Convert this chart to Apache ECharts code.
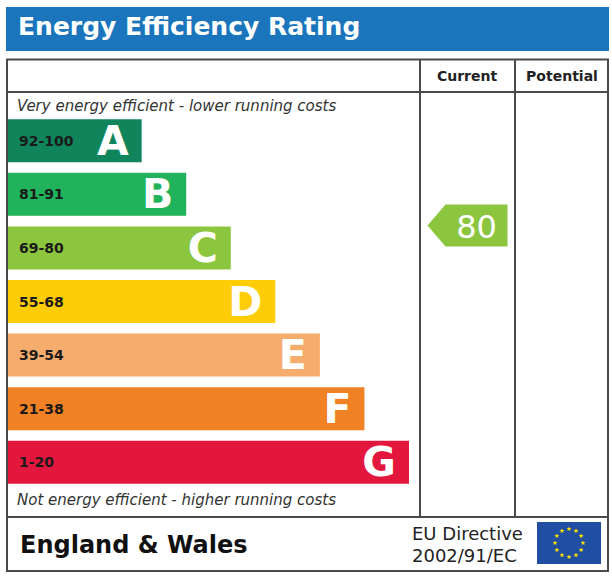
<!DOCTYPE html>
<html>
<head>
<meta charset="utf-8">
<script src="https://cdn.jsdelivr.net/npm/echarts@6/dist/echarts.min.js"></script>
<style>
html,body{margin:0;padding:0;background:#fff;}
#chart{width:612px;height:576px;}
</style>
</head>
<body>
<div id="chart"></div>
<script>
// ---- data ----
var bands = ['A', 'B', 'C', 'D', 'E', 'F', 'G'];
var rangeLabels = ['92-100', '81-91', '69-80', '55-68', '39-54', '21-38', '1-20'];
var bandLow = [92, 81, 69, 55, 39, 21, 1];
var bandHigh = [100, 91, 80, 68, 54, 38, 20];
var barLength = [3, 4, 5, 6, 7, 8, 9];
var bandColors = ['#10845a', '#21b25c', '#8cc63f', '#fecd07', '#f6ac6d', '#f08124', '#e3173d'];
var currentRating = 80;
var titleText = 'Energy Efficiency Rating';
var columnTitles = ['Current', 'Potential'];
var topNote = 'Very energy efficient - lower running costs';
var bottomNote = 'Not energy efficient - higher running costs';
var regionText = 'England & Wales';
var directiveLines = ['EU Directive', '2002/91/EC'];

// band position of the current rating (fractional row index)
function ratingPos(v) {
  for (var i = 0; i < bandLow.length; i++) {
    if (v >= bandLow[i] && v <= bandHigh[i]) {
      return i - 0.5 + (bandHigh[i] - v + 1) / (bandHigh[i] - bandLow[i] + 1);
    }
  }
  return 0;
}
var currentBand = 0;
for (var k = 0; k < bandLow.length; k++) { if (currentRating >= bandLow[k] && currentRating <= bandHigh[k]) currentBand = k; }

var FONT = '"DejaVu Sans", sans-serif';
var lineColor = '#4a4a4a';

// EU flag stars
var stars = [];
var fcx = 569, fcy = 543, fr = 14;
for (var s = 0; s < 12; s++) {
  var a = s * Math.PI / 6;
  var sx = fcx + fr * Math.sin(a), sy = fcy - fr * Math.cos(a);
  var pts = [];
  for (var p = 0; p < 10; p++) {
    var rr = p % 2 === 0 ? 2.6 : 1.1;
    var aa = p * Math.PI / 5;
    pts.push([sx + rr * Math.sin(aa), sy - rr * Math.cos(aa)]);
  }
  stars.push({ type: 'polygon', shape: { points: pts }, style: { fill: '#ffe100' }, silent: true });
}

var graphics = [
  { type: 'rect', shape: { x: 6, y: 7, width: 603, height: 44 }, style: { fill: '#1b75bc' } },
  { type: 'text', left: 18, top: 14, style: { text: titleText, fill: '#ffffff', font: 'bold 25px ' + FONT } },
  { type: 'rect', shape: { x: 7, y: 59.5, width: 601, height: 511.5 }, style: { fill: 'none', stroke: lineColor, lineWidth: 2 } },
  { type: 'line', shape: { x1: 7, y1: 92, x2: 608, y2: 92 }, style: { stroke: lineColor, lineWidth: 2 } },
  { type: 'line', shape: { x1: 7, y1: 517, x2: 608, y2: 517 }, style: { stroke: lineColor, lineWidth: 2 } },
  { type: 'line', shape: { x1: 420, y1: 59.5, x2: 420, y2: 517 }, style: { stroke: lineColor, lineWidth: 2 } },
  { type: 'line', shape: { x1: 515, y1: 59.5, x2: 515, y2: 517 }, style: { stroke: lineColor, lineWidth: 2 } },
  { type: 'text', x: 467, y: 76, style: { text: columnTitles[0], fill: '#222', font: 'bold 14px ' + FONT, textAlign: 'center', textVerticalAlign: 'middle' } },
  { type: 'text', x: 562, y: 76, style: { text: columnTitles[1], fill: '#222', font: 'bold 14px ' + FONT, textAlign: 'center', textVerticalAlign: 'middle' } },
  { type: 'text', x: 17, y: 106, style: { text: topNote, fill: '#333', font: 'italic 15px ' + FONT, textVerticalAlign: 'middle' } },
  { type: 'text', x: 17, y: 500, style: { text: bottomNote, fill: '#333', font: 'italic 15px ' + FONT, textVerticalAlign: 'middle' } },
  { type: 'text', x: 20, y: 545, style: { text: regionText, fill: '#111', font: 'bold 24px ' + FONT, textVerticalAlign: 'middle' } },
  { type: 'text', x: 412, y: 533, style: { text: directiveLines[0], fill: '#222', font: '18px ' + FONT, textVerticalAlign: 'middle' } },
  { type: 'text', x: 412, y: 555, style: { text: directiveLines[1], fill: '#222', font: '18px ' + FONT, textVerticalAlign: 'middle' } },
  { type: 'rect', shape: { x: 537, y: 522, width: 64, height: 42 }, style: { fill: '#1f4ea3' } }
].concat(stars);

var chart = echarts.init(document.getElementById('chart'), null, { renderer: 'svg' });
chart.setOption({
  animation: false,
  backgroundColor: '#ffffff',
  graphic: graphics,
  grid: [
    { left: 8, width: 401, top: 114, height: 375 },
    { left: 420, width: 95, top: 114, height: 375 }
  ],
  xAxis: [
    { gridIndex: 0, type: 'value', min: 0, max: 9, show: false },
    { gridIndex: 1, type: 'value', min: 0, max: 1, show: false }
  ],
  yAxis: [
    { gridIndex: 0, type: 'category', data: bands, inverse: true, show: false },
    { gridIndex: 1, type: 'value', min: -0.5, max: 6.5, inverse: true, show: false }
  ],
  series: [
    {
      type: 'bar', xAxisIndex: 0, yAxisIndex: 0, barWidth: 43,
      data: barLength.map(function (v, i) { return { value: v, itemStyle: { color: bandColors[i] } }; }),
      label: {
        show: true, position: 'insideLeft', distance: 11,
        formatter: function (p) { return rangeLabels[p.dataIndex]; },
        color: '#1a1a1a', fontFamily: 'DejaVu Sans', fontWeight: 'bold', fontSize: 14
      },
      silent: true
    },
    {
      type: 'bar', xAxisIndex: 0, yAxisIndex: 0, barWidth: 43, barGap: '-100%',
      data: barLength.map(function (v) { return { value: v, itemStyle: { color: 'rgba(0,0,0,0)' } }; }),
      label: {
        show: true, position: 'insideRight', distance: 13,
        formatter: function (p) { return bands[p.dataIndex]; },
        color: '#ffffff', fontFamily: 'DejaVu Sans', fontWeight: 'bold', fontSize: 41
      },
      silent: true
    },
    {
      type: 'scatter', xAxisIndex: 1, yAxisIndex: 1,
      symbol: 'path://M0,21 L18,0 L80,0 L80,42 L18,42 Z',
      symbolSize: [80, 42],
      itemStyle: { color: bandColors[currentBand], opacity: 1 },
      data: [[0.5, ratingPos(currentRating), currentRating]],
      label: {
        show: true, position: 'inside', offset: [9, 1],
        formatter: function (p) { return String(p.value[2]); },
        color: '#ffffff', fontFamily: 'DejaVu Sans', fontSize: 32
      },
      silent: true
    }
  ]
});
</script>
</body>
</html>
